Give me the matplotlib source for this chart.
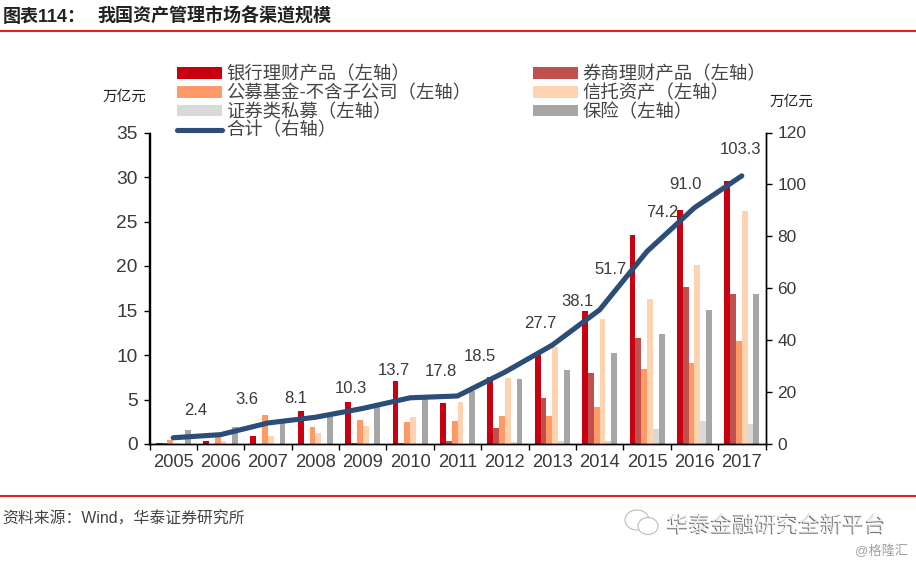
import matplotlib
matplotlib.use("Agg")
import numpy as np
import matplotlib.pyplot as plt
import matplotlib.patheffects as pe
from matplotlib.patches import Ellipse
from matplotlib.lines import Line2D

plt.rcParams['font.family'] = ['Liberation Sans', 'Noto Sans CJK SC']

years = ['2005', '2006', '2007', '2008', '2009', '2010', '2011', '2012', '2013', '2014', '2015', '2016', '2017']
bank = [0.15, 0.37, 0.9, 3.7, 4.75, 7.1, 4.6, 7.5, 10.1, 15.0, 23.5, 26.3, 29.5]
broker = [0.15, 0.02, 0.02, 0.02, 0.1, 0.15, 0.3, 1.85, 5.2, 8.0, 11.9, 17.6, 16.9]
fund = [0.45, 0.8, 3.25, 1.95, 2.7, 2.5, 2.6, 3.15, 3.1, 4.15, 8.4, 9.1, 11.6]
trust = [0.1, 0.3, 0.95, 1.25, 2.0, 3.05, 4.75, 7.45, 10.9, 14.0, 16.3, 20.1, 26.2]
private = [0.0, 0.0, 0.0, 0.0, 0.0, 0.0, 0.05, 0.25, 0.3, 0.35, 1.7, 2.6, 2.25]
insurance = [1.55, 1.9, 2.4, 3.1, 4.2, 5.05, 5.95, 7.35, 8.3, 10.2, 12.35, 15.1, 16.8]
total = [2.4, 3.6, 8.1, 10.3, 13.7, 17.8, 18.5, 27.7, 38.1, 51.7, 74.2, 91.0, 103.3]

bar_series = [bank, broker, fund, trust, private, insurance]
bar_colors = ['#C8000F', '#C0504D', '#FF9966', '#FFD2B0', '#D9D9D9', '#A6A6A6']
bar_names = ['银行理财产品（左轴）', '券商理财产品（左轴）', '公募基金-不含子公司（左轴）',
             '信托资产（左轴）', '证券类私募（左轴）', '保险（左轴）']
line_name = '合计（右轴）'
line_color = '#2C4D75'
text_color = '#3A3A3A'

# pixel offsets of the data labels from their points
label_dx = [22, 26, 28, 36, 31, 31, 22, 35, 25, 11, 15, -9, -1]
label_dy = [27, 35, 24, 29, 38, 26, 39, 49, 44, 40, 39, 23, 26]

W, H = 916, 566
fig = plt.figure(figsize=(W / 100, H / 100), dpi=100)
ax = fig.add_axes([149.5 / W, 1 - 444 / H, 616 / W, 311.5 / H])
ax2 = ax.twinx()

x = np.arange(len(years))
bw = 0.123
for i, vals in enumerate(bar_series):
    ax.bar(x + (i - 2.5) * bw, vals, bw, color=bar_colors[i], linewidth=0)

ax2.plot(x, total, color=line_color, lw=3.7, solid_capstyle='round', solid_joinstyle='miter')
for i, v in enumerate(total):
    ax2.annotate(f'{v:.1f}', (x[i], v), xytext=(label_dx[i], label_dy[i]), textcoords='offset pixels',
                 ha='center', va='center', fontsize=12, color=text_color)

ax.set_xlim(-0.5, 12.5)
ax.set_ylim(0, 35)
ax.set_yticks(range(0, 36, 5))
ax2.set_ylim(0, 120)
ax2.set_yticks(range(0, 121, 20))
ax.set_xticks(np.arange(-0.5, 13, 1))
ax.set_xticklabels([])
ax.set_xticks(x, minor=True)
ax.set_xticklabels(years, minor=True, fontsize=13.2, color=text_color)
ax.tick_params(axis='x', which='minor', length=0, pad=7)
ax.tick_params(axis='x', which='major', length=4.5, width=1, direction='out')
ax.tick_params(axis='y', length=4.5, width=1, labelsize=13.8, labelcolor=text_color, pad=4)
ax2.tick_params(axis='y', length=4.5, width=1, labelsize=12.5, labelcolor=text_color, pad=4)
for a in (ax, ax2):
    a.spines['top'].set_visible(False)
    for s in ('left', 'right', 'bottom'):
        a.spines[s].set_linewidth(1)

order = [0, 2, 4, 1, 3, 5]
handles = [plt.Rectangle((0, 0), 1, 1, color=bar_colors[i], lw=0) for i in order]
labels = [bar_names[i] for i in order]
handles.insert(3, Line2D([0], [0], color=line_color, lw=3.7, solid_capstyle='round'))
labels.insert(3, line_name)
fig.legend(handles, labels, ncol=2, loc='upper left', bbox_to_anchor=(177 / W, 1 - 66 / H),
           bbox_transform=fig.transFigure, frameon=False, fontsize=13.2, labelcolor='#444444',
           handlelength=2.45, handleheight=0.6, handletextpad=0.25, labelspacing=0.07,
           columnspacing=3.35, borderpad=0, borderaxespad=0)

fig.text(124 / W, 1 - 97 / H, '万亿元', fontsize=10.5, color='#222222', ha='center', va='center')
fig.text(791 / W, 1 - 102 / H, '万亿元', fontsize=10.5, color='#222222', ha='center', va='center')

# header and footer
rule = '#E2231A'
fig.add_artist(Line2D([0, 1], [1 - 31 / H] * 2, color=rule, lw=1.5))
fig.add_artist(Line2D([0, 1], [1 - 496 / H] * 2, color=rule, lw=1.5))
fig.text(3 / W, 1 - 17 / H, '图表114：', fontsize=13, fontweight='bold', color='#222222', va='center')
fig.text(97 / W, 1 - 17 / H, '我国资产管理市场各渠道规模', fontsize=13, fontweight='bold', color='#222222', va='center')
fig.text(2 / W, 1 - 519 / H, '资料来源：Wind，华泰证券研究所', fontsize=11.4, color='#444444', va='center')

# watermark
fig.text(667 / W, 1 - 526 / H, '华泰金融研究全新平台', fontsize=15.8, color='#F2F2F2', va='center',
         path_effects=[pe.withSimplePatchShadow(offset=(-0.7, -0.7), shadow_rgbFace='#555555', alpha=0.9)])
fig.text(908 / W, 1 - 551 / H, '@格隆汇', fontsize=9.5, color='#A0A0A0', va='center', ha='right')
fig.add_artist(Ellipse((637 / W, 1 - 520 / H), 24 / W, 20 / H, fill=False, ec='#BBBBBB', lw=0.8,
                       transform=fig.transFigure))
fig.add_artist(Ellipse((648 / W, 1 - 526 / H), 20 / W, 17 / H, fc='white', ec='#BBBBBB', lw=0.8,
                       transform=fig.transFigure))

fig.savefig('out.png', dpi=100)
